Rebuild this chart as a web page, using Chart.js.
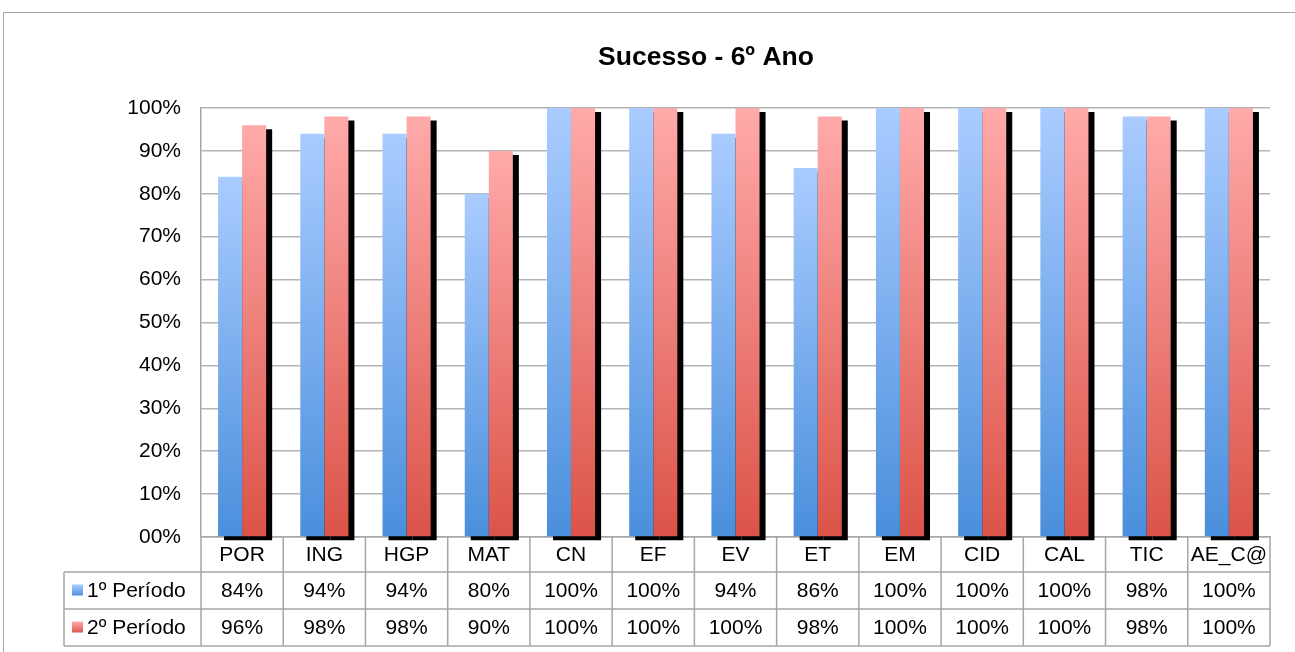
<!DOCTYPE html>
<html>
<head>
<meta charset="utf-8">
<script src="https://cdn.jsdelivr.net/npm/chart.js@4/dist/chart.umd.min.js"></script>
<style>
  html, body { margin: 0; padding: 0; background: #fff; }
  #wrap { position: relative; width: 1295px; height: 652px; overflow: hidden; }
  #frame { position: absolute; left: 3px; top: 12px; width: 1400px; height: 700px;
           border-left: 1px solid #a6a6a6; border-top: 1px solid #a6a6a6; }
  #chart1 { position: absolute; left: 0; top: 0; }
</style>
</head>
<body>
<div id="wrap">
  <div id="frame"></div>
  <canvas id="chart1" width="1295" height="652"></canvas>
</div>
<script>
var titleText = "Sucesso - 6º Ano";
var categories = ["POR", "ING", "HGP", "MAT", "CN", "EF", "EV", "ET", "EM", "CID", "CAL", "TIC", "AE_C@"];
var seriesNames = ["1º Período", "2º Período"];
var periodo1 = [84, 94, 94, 80, 100, 100, 94, 86, 100, 100, 100, 98, 100];
var periodo2 = [96, 98, 98, 90, 100, 100, 100, 98, 100, 100, 100, 98, 100];
var yTicks = [0, 10, 20, 30, 40, 50, 60, 70, 80, 90, 100];

var blueTop = "#aaccff", blueBottom = "#4a8fdc";
var redTop = "#ffaaaa", redBottom = "#db5348";
var lineGray = "#a6a6a6";
var shadowX = 6, shadowY = 4;

function barGradient(top, bottom) {
  return function(c) {
    var chart = c.chart;
    if (!chart.chartArea || c.raw === undefined) return top;
    var y = chart.scales.y;
    var g = chart.ctx.createLinearGradient(0, y.getPixelForValue(c.raw), 0, y.getPixelForValue(0));
    g.addColorStop(0, top);
    g.addColorStop(1, bottom);
    return g;
  };
}

function pct(v) {
  return v + "%";
}

// black drop shadow: blue one goes under everything, red one via canvas shadow
var shadowPlugin = {
  id: "barShadow",
  beforeDatasetsDraw: function(chart) {
    var ctx = chart.ctx;
    var meta = chart.getDatasetMeta(0);
    ctx.save();
    ctx.fillStyle = "#000";
    meta.data.forEach(function(bar) {
      var p = bar.getProps(["x", "y", "base", "width"], true);
      ctx.fillRect(p.x - p.width / 2 + shadowX, p.y + shadowY, p.width, p.base - p.y);
    });
    ctx.restore();
  },
  beforeDatasetDraw: function(chart, args) {
    var ctx = chart.ctx;
    ctx.save();
    if (args.index === 1) {
      ctx.shadowColor = "rgba(0,0,0,1)";
      ctx.shadowOffsetX = shadowX;
      ctx.shadowOffsetY = shadowY;
      ctx.shadowBlur = 0;
    }
  },
  afterDatasetDraw: function(chart) {
    chart.ctx.restore();
  }
};

var tablePlugin = {
  id: "dataTable",
  afterDraw: function(chart) {
    var ctx = chart.ctx;
    var x = chart.scales.x;
    var area = chart.chartArea;
    var catW = (area.right - area.left) / categories.length;
    var rowTop = [area.bottom, 572, 609];
    var rowBottom = 646;
    var tableLeft = 64;
    var rows = [periodo1, periodo2];

    // title
    ctx.save();
    ctx.fillStyle = "#000";
    ctx.font = "bold 26.5px Arial, 'Liberation Sans'";
    ctx.textAlign = "center";
    ctx.textBaseline = "alphabetic";
    ctx.fillText(titleText, 706, 65);
    ctx.restore();

    ctx.save();
    ctx.strokeStyle = lineGray;
    ctx.lineWidth = 1.5;
    ctx.beginPath();
    for (var r = 1; r < rowTop.length; r++) {
      ctx.moveTo(tableLeft, rowTop[r]);
      ctx.lineTo(area.right, rowTop[r]);
    }
    ctx.moveTo(tableLeft, rowBottom);
    ctx.lineTo(area.right, rowBottom);
    ctx.moveTo(tableLeft, rowTop[1]);
    ctx.lineTo(tableLeft, rowBottom);
    for (var i = 0; i <= categories.length; i++) {
      var bx = area.left + i * catW;
      ctx.moveTo(bx, area.bottom);
      ctx.lineTo(bx, rowBottom);
    }
    ctx.stroke();

    ctx.fillStyle = "#000";
    ctx.font = "21px Arial, 'Liberation Sans'";
    ctx.textAlign = "center";
    ctx.textBaseline = "middle";
    for (var j = 0; j < categories.length; j++) {
      var cx = x.getPixelForValue(j);
      ctx.fillText(categories[j], cx, (rowTop[0] + rowTop[1]) / 2 + 1);
      ctx.fillText(pct(rows[0][j]), cx, (rowTop[1] + rowTop[2]) / 2 + 1);
      ctx.fillText(pct(rows[1][j]), cx, (rowTop[2] + rowBottom) / 2 + 1);
    }

    // legend keys inside the table
    var keys = [[blueTop, blueBottom], [redTop, redBottom]];
    var mids = [(rowTop[1] + rowTop[2]) / 2, (rowTop[2] + rowBottom) / 2];
    ctx.textAlign = "left";
    for (var k = 0; k < 2; k++) {
      var g = ctx.createLinearGradient(0, mids[k] - 6, 0, mids[k] + 6);
      g.addColorStop(0, keys[k][0]);
      g.addColorStop(1, keys[k][1]);
      ctx.fillStyle = g;
      ctx.fillRect(72, mids[k] - 6, 11, 11);
      ctx.fillStyle = "#000";
      ctx.fillText(seriesNames[k], 87, mids[k] + 1);
    }
    ctx.restore();
  }
};

Chart.defaults.font.family = "Arial, 'Liberation Sans'";
Chart.defaults.color = "#000";

new Chart(document.getElementById("chart1"), {
  type: "bar",
  data: {
    labels: categories,
    datasets: [
      {
        label: seriesNames[0],
        data: periodo1,
        backgroundColor: barGradient(blueTop, blueBottom),
        borderWidth: 0,
        barPercentage: 1,
        categoryPercentage: 0.585,
        clip: 8
      },
      {
        label: seriesNames[1],
        data: periodo2,
        backgroundColor: barGradient(redTop, redBottom),
        borderWidth: 0,
        barPercentage: 1,
        categoryPercentage: 0.585,
        clip: 8
      }
    ]
  },
  options: {
    responsive: false,
    animation: false,
    layout: { padding: { top: 108, bottom: 115, right: 25, left: 0 } },
    plugins: {
      legend: { display: false },
      title: { display: false },
      tooltip: { enabled: false }
    },
    scales: {
      x: {
        grid: { display: false },
        border: { display: true, color: lineGray, width: 1.5 },
        ticks: { display: false },
        afterFit: function(scale) { scale.height = 0; }
      },
      y: {
        min: 0,
        max: 100,
        afterBuildTicks: function(scale) {
          scale.ticks = yTicks.map(function(v) { return { value: v }; });
        },
        ticks: {
          padding: 20,
          font: { size: 21 },
          callback: function(v) { return v === 0 ? "00%" : pct(v); }
        },
        grid: { color: "#b4b4b4", lineWidth: 1.5, drawTicks: false },
        border: { display: true, color: lineGray, width: 1.5 },
        afterFit: function(scale) { scale.width = 201; }
      }
    }
  },
  plugins: [shadowPlugin, tablePlugin]
});
</script>
</body>
</html>
